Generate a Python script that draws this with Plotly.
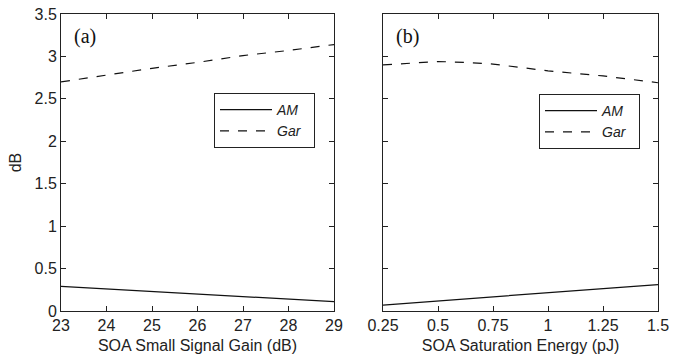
import plotly.graph_objects as go

# Panel (a): SOA small signal gain
gain_db = [23, 24, 25, 26, 27, 28, 29]
am_a = [0.29, 0.26, 0.23, 0.195, 0.165, 0.14, 0.11]
gar_a = [2.70, 2.78, 2.86, 2.93, 3.01, 3.07, 3.14]

# Panel (b): SOA saturation energy
esat_pj = [0.25, 0.375, 0.5, 0.625, 0.75, 0.875, 1.0, 1.125, 1.25, 1.375, 1.5]
am_b = [0.07, 0.095, 0.12, 0.145, 0.17, 0.195, 0.22, 0.243, 0.265, 0.288, 0.31]
gar_b = [2.90, 2.92, 2.94, 2.93, 2.91, 2.87, 2.83, 2.80, 2.77, 2.73, 2.69]

y_ticks = [0, 0.5, 1, 1.5, 2, 2.5, 3, 3.5]
y_ticklabels = ["0", "0.5", "1", "1.5", "2", "2.5", "3", "3.5"]
xb_ticks = [0.25, 0.5, 0.75, 1.0, 1.25, 1.5]
xb_ticklabels = ["0.25", "0.5", "0.75", "1", "1.25", "1.5"]
legend_names = ["<i>AM</i>&nbsp;&nbsp;", "<i>Gar</i>&nbsp;&nbsp;"]

W, H = 681, 358
line_col = "#111111"

fig = go.Figure()
fig.add_trace(go.Scatter(x=gain_db, y=am_a, mode="lines", name=legend_names[0],
                         line=dict(color=line_col, width=1.2), xaxis="x", yaxis="y", legend="legend"))
fig.add_trace(go.Scatter(x=gain_db, y=gar_a, mode="lines", name=legend_names[1],
                         line=dict(color=line_col, width=1.2, dash="dash"), xaxis="x", yaxis="y", legend="legend"))
fig.add_trace(go.Scatter(x=esat_pj, y=am_b, mode="lines", name=legend_names[0],
                         line=dict(color=line_col, width=1.2), xaxis="x2", yaxis="y2", legend="legend2"))
fig.add_trace(go.Scatter(x=esat_pj, y=gar_b, mode="lines", name=legend_names[1],
                         line=dict(color=line_col, width=1.2, dash="dash"), xaxis="x2", yaxis="y2", legend="legend2"))

ydom = [1 - 311 / H, 1 - 14 / H]
font = dict(family="Liberation Sans, Arial, sans-serif", size=16, color="#222222")

axis_common = dict(showline=True, linecolor="#222222", linewidth=1, mirror="ticks",
                   ticks="inside", ticklen=5, tickcolor="#222222", showgrid=False,
                   zeroline=False, tickfont=font, automargin=False)

legend_font = dict(family="Liberation Sans, Arial, sans-serif", size=14, color="#222222")

fig.update_layout(
    width=W, height=H,
    margin=dict(l=0, r=0, t=0, b=0),
    paper_bgcolor="white", plot_bgcolor="white",
    font=font,
    xaxis=dict(domain=[61 / W, 334 / W], range=[23, 29], tickvals=gain_db,
               title=dict(text="SOA Small Signal Gain (dB)", font=font, standoff=6),
               anchor="y", **axis_common),
    yaxis=dict(domain=ydom, range=[0, 3.5], tickvals=y_ticks, ticktext=y_ticklabels,
               title=dict(text="dB", font=font, standoff=8), anchor="x", **axis_common),
    xaxis2=dict(domain=[383 / W, 658 / W], range=[0.25, 1.5], tickvals=xb_ticks,
                ticktext=xb_ticklabels,
                title=dict(text="SOA Saturation Energy (pJ)", font=font, standoff=6),
                anchor="y2", **axis_common),
    yaxis2=dict(domain=ydom, range=[0, 3.5], tickvals=y_ticks, showticklabels=False,
                anchor="x2", **axis_common),
    legend=dict(x=214 / W, y=1 - 93 / H, xanchor="left", yanchor="top",
                bordercolor="#222222", borderwidth=1, bgcolor="white",
                font=legend_font, tracegroupgap=0, itemwidth=52),
    legend2=dict(x=539 / W, y=1 - 94 / H, xanchor="left", yanchor="top",
                 bordercolor="#222222", borderwidth=1, bgcolor="white",
                 font=legend_font, tracegroupgap=0, itemwidth=52),
    annotations=[
        dict(text="(a)", x=23.24, y=3.24, xref="x", yref="y", showarrow=False,
             xanchor="left", yanchor="middle",
             font=dict(family="Liberation Serif, Times New Roman, serif", size=20, color="#111111")),
        dict(text="(b)", x=0.298, y=3.24, xref="x2", yref="y2", showarrow=False,
             xanchor="left", yanchor="middle",
             font=dict(family="Liberation Serif, Times New Roman, serif", size=20, color="#111111")),
    ],
)

fig.write_html("out.html")
